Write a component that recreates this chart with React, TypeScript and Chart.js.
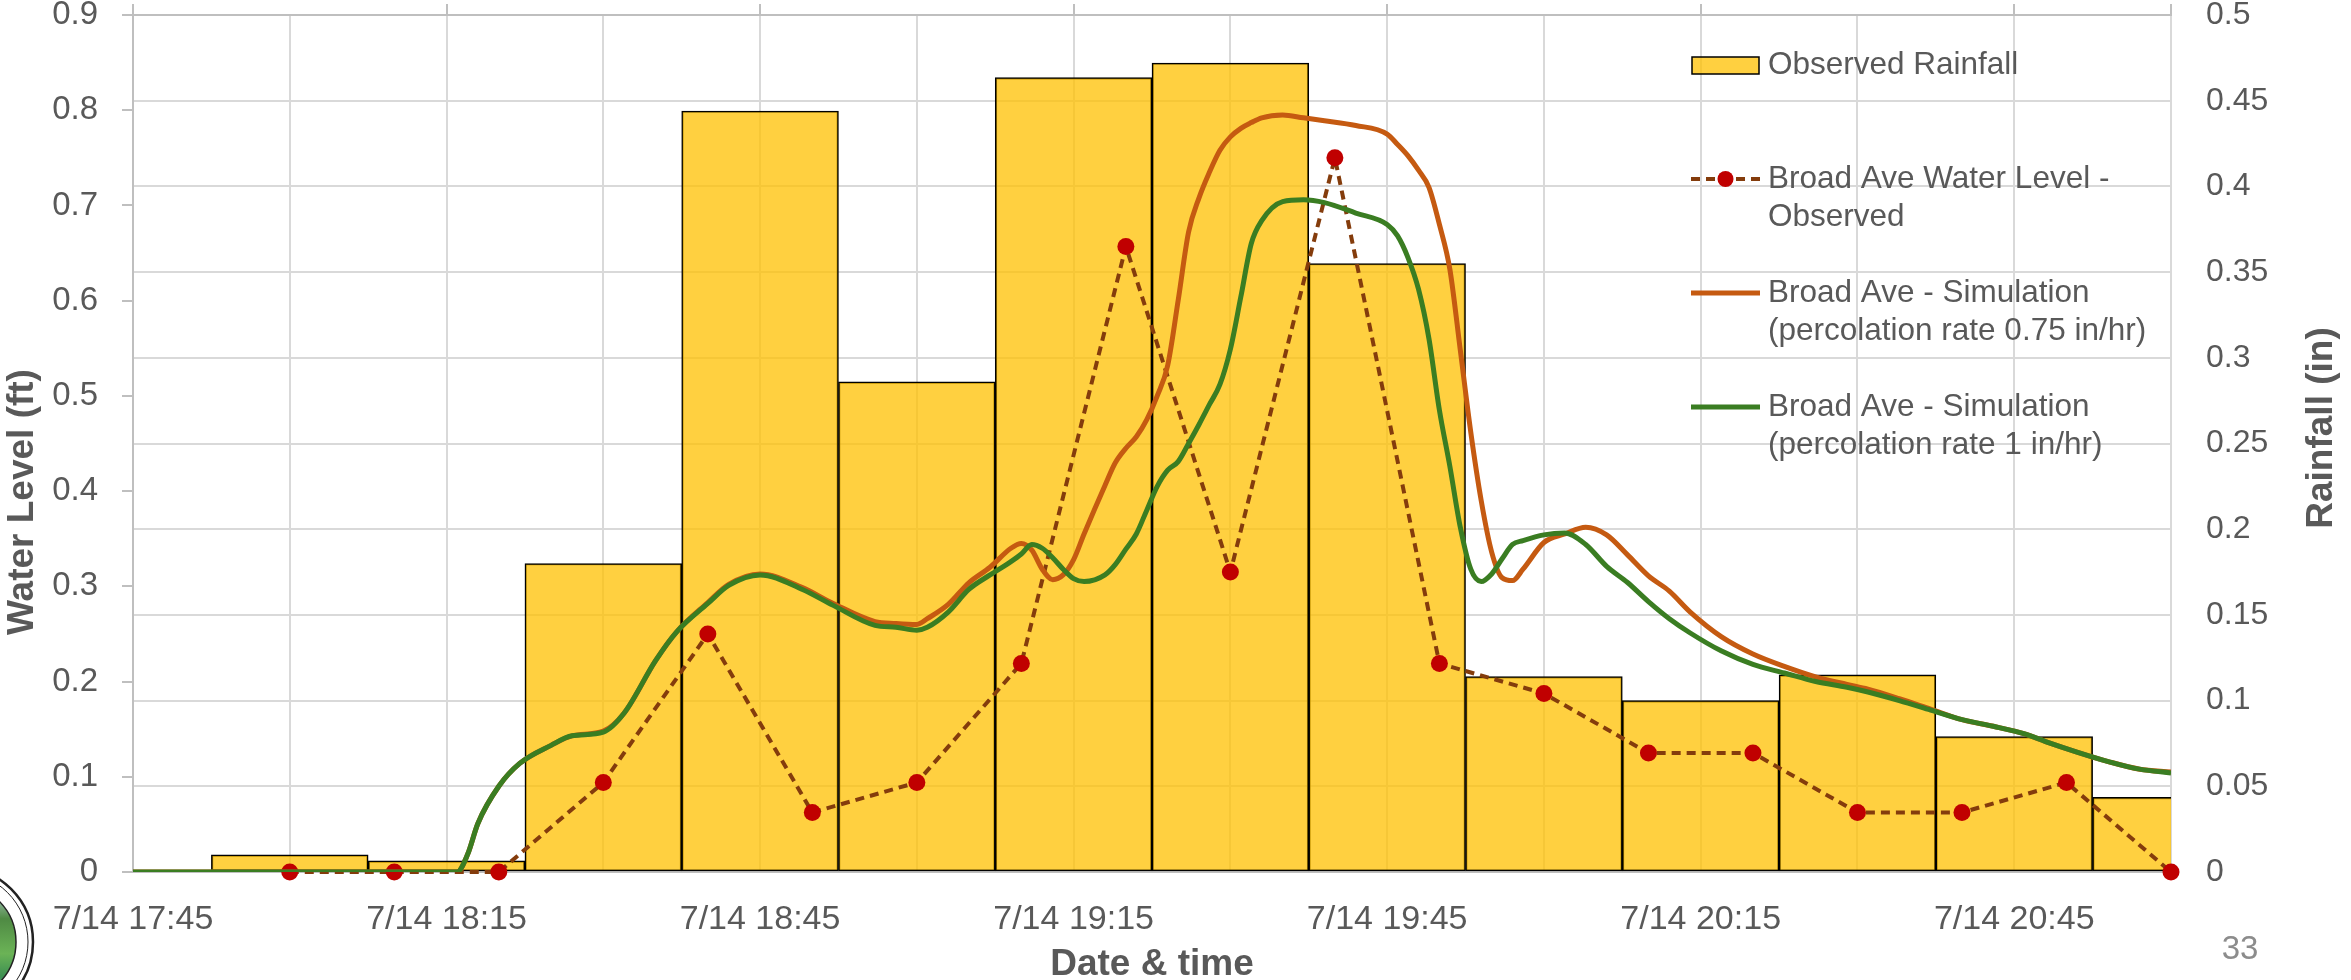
import React, { useEffect, useRef } from 'react';
import { Chart, registerables } from 'chart.js';

Chart.register(...registerables);

const W = 2351;
const H = 980;
const FONT = '"Liberation Sans", Arial, sans-serif';
const TEXT = '#595959';

// ---- Data ----
const rainTimes = ['18:00', '18:15', '18:30', '18:45', '19:00', '19:15', '19:30', '19:45', '20:00', '20:15', '20:30', '20:45', '21:00'];
const rainfall = [0.01, 0.0065, 0.18, 0.444, 0.286, 0.4635, 0.472, 0.355, 0.114, 0.1, 0.115, 0.079, 0.0435];

const obsTimes = ['18:00', '18:10', '18:20', '18:30', '18:40', '18:50', '19:00', '19:10', '19:20', '19:30', '19:40', '19:50', '20:00', '20:10', '20:20', '20:30', '20:40', '20:50', '21:00'];
const obsLevel = [0, 0, 0, 0.094, 0.25, 0.0625, 0.094, 0.219, 0.657, 0.315, 0.75, 0.219, 0.1875, 0.125, 0.125, 0.0625, 0.0625, 0.094, 0];

const simTimes = ['17:45', '18:16', '18:17', '18:18', '18:20', '18:22', '18:25', '18:27', '18:30', '18:32', '18:35', '18:37', '18:40', '18:42', '18:45', '18:49', '18:52', '18:56', '18:58', '19:00', '19:01', '19:03', '19:05', '19:07', '19:09', '19:10', '19:11', '19:12', '19:13', '19:14', '19:15', '19:16', '19:18', '19:19', '19:20', '19:21', '19:22', '19:23', '19:24', '19:25', '19:26', '19:27', '19:28', '19:29', '19:30', '19:31', '19:32', '19:33', '19:35', '19:37', '19:39', '19:42', '19:45', '19:46', '19:47', '19:48', '19:49', '19:50', '19:51', '19:52', '19:53', '19:54', '19:55', '19:56', '19:57', '19:58', '20:00', '20:02', '20:04', '20:06', '20:08', '20:10', '20:12', '20:14', '20:17', '20:20', '20:23', '20:26', '20:29', '20:31', '20:34', '20:37', '20:40', '20:43', '20:46', '20:48', '20:51', '20:54', '20:57', '21:00'];
const sim075 = [0, 0, 0.018, 0.051, 0.09, 0.114, 0.133, 0.143, 0.148, 0.167, 0.222, 0.252, 0.283, 0.302, 0.313, 0.299, 0.282, 0.263, 0.261, 0.26, 0.266, 0.281, 0.304, 0.32, 0.34, 0.345, 0.338, 0.318, 0.307, 0.312, 0.328, 0.355, 0.406, 0.43, 0.445, 0.457, 0.475, 0.5, 0.532, 0.6, 0.672, 0.708, 0.735, 0.758, 0.772, 0.781, 0.787, 0.792, 0.795, 0.792, 0.789, 0.784, 0.775, 0.764, 0.752, 0.737, 0.719, 0.68, 0.633, 0.548, 0.462, 0.39, 0.336, 0.309, 0.306, 0.318, 0.346, 0.355, 0.362, 0.354, 0.333, 0.311, 0.295, 0.273, 0.247, 0.229, 0.216, 0.205, 0.197, 0.192, 0.182, 0.171, 0.16, 0.153, 0.145, 0.137, 0.126, 0.116, 0.108, 0.105];
const sim100 = [0, 0, 0.018, 0.051, 0.09, 0.114, 0.133, 0.143, 0.147, 0.167, 0.222, 0.252, 0.282, 0.301, 0.312, 0.297, 0.28, 0.259, 0.257, 0.254, 0.257, 0.273, 0.297, 0.312, 0.326, 0.334, 0.344, 0.34, 0.33, 0.318, 0.308, 0.305, 0.312, 0.323, 0.339, 0.355, 0.38, 0.405, 0.422, 0.431, 0.45, 0.47, 0.491, 0.512, 0.549, 0.604, 0.66, 0.684, 0.704, 0.706, 0.703, 0.692, 0.68, 0.668, 0.645, 0.612, 0.56, 0.485, 0.426, 0.362, 0.318, 0.305, 0.313, 0.329, 0.344, 0.348, 0.354, 0.356, 0.344, 0.321, 0.304, 0.284, 0.266, 0.251, 0.232, 0.218, 0.209, 0.2, 0.194, 0.189, 0.18, 0.17, 0.16, 0.153, 0.145, 0.137, 0.126, 0.116, 0.108, 0.104];

const xTickLabels = ['7/14 17:45', '7/14 18:15', '7/14 18:45', '7/14 19:15', '7/14 19:45', '7/14 20:15', '7/14 20:45'];
const leftTickLabels = ['0', '0.1', '0.2', '0.3', '0.4', '0.5', '0.6', '0.7', '0.8', '0.9'];
const rightTickLabels = ['0', '0.05', '0.1', '0.15', '0.2', '0.25', '0.3', '0.35', '0.4', '0.45', '0.5'];

const legendLabels = [
  ['Observed Rainfall'],
  ['Broad Ave Water Level -', 'Observed'],
  ['Broad Ave - Simulation', '(percolation rate 0.75 in/hr)'],
  ['Broad Ave - Simulation', '(percolation rate 1 in/hr)'],
];

const BAR_FILL = 'rgba(255,192,0,0.75)';
const OBS_LINE = '#843C0C';
const OBS_DOT = '#C00000';
const ORANGE = '#C55A11';
const GREEN = '#3A7D22';

const toMin = (hhmm: string) => {
  const [h, m] = hhmm.split(':').map(Number);
  return h * 60 + m - (17 * 60 + 45);
};
const pts = (times: string[], vals: number[]) => times.map((t, i) => ({ x: toMin(t), y: vals[i] }));

const overlayPlugin = {
  id: 'overlay',
  afterDraw(chart: any) {
    const ctx = chart.ctx as CanvasRenderingContext2D;
    ctx.save();
    // axis titles
    ctx.fillStyle = TEXT;
    ctx.font = `bold 37px ${FONT}`;
    ctx.textAlign = 'center';
    ctx.textBaseline = 'middle';
    ctx.save();
    ctx.translate(23, 502);
    ctx.rotate(-Math.PI / 2);
    ctx.fillText('Water Level (ft)', 0, 0);
    ctx.restore();
    ctx.save();
    ctx.translate(2322, 428);
    ctx.rotate(-Math.PI / 2);
    ctx.fillText('Rainfall (in)', 0, 0);
    ctx.restore();
    ctx.fillText('Date & time', 1152, 965);

    // legend
    const sx0 = 1691;
    const sx1 = 1760;
    const tx = 1768;
    const ys = [65, 179, 293, 407];
    const lh = 38.5;
    ctx.fillStyle = BAR_FILL;
    ctx.fillRect(1692, 57, 67, 17);
    ctx.strokeStyle = '#000';
    ctx.lineWidth = 1.5;
    ctx.strokeRect(1692, 57, 67, 17);
    ctx.save();
    ctx.strokeStyle = OBS_LINE;
    ctx.lineWidth = 4;
    ctx.setLineDash([9, 6]);
    ctx.beginPath();
    ctx.moveTo(sx0, ys[1]);
    ctx.lineTo(sx1, ys[1]);
    ctx.stroke();
    ctx.restore();
    ctx.fillStyle = OBS_DOT;
    ctx.beginPath();
    ctx.arc((sx0 + sx1) / 2, ys[1], 8, 0, Math.PI * 2);
    ctx.fill();
    ctx.lineWidth = 5;
    ctx.strokeStyle = ORANGE;
    ctx.beginPath();
    ctx.moveTo(sx0, ys[2]);
    ctx.lineTo(sx1, ys[2]);
    ctx.stroke();
    ctx.strokeStyle = GREEN;
    ctx.beginPath();
    ctx.moveTo(sx0, ys[3]);
    ctx.lineTo(sx1, ys[3]);
    ctx.stroke();
    ctx.fillStyle = TEXT;
    ctx.font = `31.5px ${FONT}`;
    ctx.textAlign = 'left';
    legendLabels.forEach((lines, i) => {
      lines.forEach((ln, j) => ctx.fillText(ln, tx, ys[i] + j * lh));
    });

    // page number
    ctx.fillStyle = '#8C8C8C';
    ctx.font = `33px ${FONT}`;
    ctx.textAlign = 'center';
    ctx.fillText('33', 2240, 950);

    // seal (corner logo)
    const cx = -42;
    const cy = 942;
    ctx.beginPath();
    ctx.arc(cx, cy, 75, 0, Math.PI * 2);
    ctx.fillStyle = '#fff';
    ctx.fill();
    ctx.lineWidth = 2.5;
    ctx.strokeStyle = '#222';
    ctx.stroke();
    ctx.beginPath();
    ctx.arc(cx, cy, 70, 0, Math.PI * 2);
    ctx.lineWidth = 1;
    ctx.stroke();
    ctx.save();
    ctx.beginPath();
    ctx.arc(cx, cy, 58, 0, Math.PI * 2);
    ctx.clip();
    const g = ctx.createLinearGradient(0, cy - 58, 0, cy + 58);
    g.addColorStop(0, '#c9dde9');
    g.addColorStop(0.3, '#4f8a44');
    g.addColorStop(0.6, '#6bb356');
    g.addColorStop(0.8, '#3c8f52');
    g.addColorStop(1, '#7fb3d1');
    ctx.fillStyle = g;
    ctx.fillRect(cx - 60, cy - 60, 120, 120);
    ctx.restore();
    ctx.beginPath();
    ctx.arc(cx, cy, 58, 0, Math.PI * 2);
    ctx.lineWidth = 1.5;
    ctx.strokeStyle = '#222';
    ctx.stroke();
    ctx.restore();
  },
};

export default function App() {
  const ref = useRef<HTMLCanvasElement | null>(null);

  useEffect(() => {
    if (!ref.current) return;
    const chart = new Chart(ref.current, {
      type: 'line',
      data: {
        datasets: [
          {
            type: 'bar',
            label: 'Observed Rainfall',
            data: pts(rainTimes, rainfall),
            xAxisID: 'x',
            yAxisID: 'y1',
            backgroundColor: BAR_FILL,
            borderColor: '#000',
            borderWidth: 1.5,
            borderSkipped: false,
            barPercentage: 1,
            categoryPercentage: 1,
            order: 4,
          } as any,
          {
            type: 'line',
            label: 'Broad Ave Water Level - Observed',
            data: pts(obsTimes, obsLevel),
            xAxisID: 'x',
            yAxisID: 'y',
            borderColor: OBS_LINE,
            borderWidth: 4,
            borderDash: [9, 6],
            pointRadius: 8.5,
            pointBackgroundColor: OBS_DOT,
            pointBorderColor: OBS_DOT,
            pointBorderWidth: 0,
            tension: 0,
            clip: false,
            order: 3,
          } as any,
          {
            type: 'line',
            label: 'Broad Ave - Simulation (percolation rate 0.75 in/hr)',
            data: pts(simTimes, sim075),
            xAxisID: 'x',
            yAxisID: 'y',
            borderColor: ORANGE,
            borderWidth: 5,
            pointRadius: 0,
            cubicInterpolationMode: 'monotone',
            order: 2,
          } as any,
          {
            type: 'line',
            label: 'Broad Ave - Simulation (percolation rate 1 in/hr)',
            data: pts(simTimes, sim100),
            xAxisID: 'x',
            yAxisID: 'y',
            borderColor: GREEN,
            borderWidth: 5,
            pointRadius: 0,
            cubicInterpolationMode: 'monotone',
            order: 1,
          } as any,
        ],
      },
      options: {
        responsive: false,
        animation: false,
        devicePixelRatio: 1,
        events: [],
        layout: { padding: 0, autoPadding: false } as any,
        plugins: {
          legend: { display: false },
          tooltip: { enabled: false },
          title: { display: false },
        },
        scales: {
          x: {
            type: 'linear',
            position: 'bottom',
            min: 0,
            max: 195,
            offset: false,
            grid: {
              offset: false,
              color: '#D9D9D9',
              lineWidth: 2,
              drawTicks: false,
              drawOnChartArea: true,
            },
            border: { display: true, color: '#BFBFBF', width: 2 },
            ticks: {
              stepSize: 15,
              autoSkip: false,
              maxRotation: 0,
              minRotation: 0,
              padding: 27,
              color: TEXT,
              font: { family: FONT, size: 34 },
              callback: (v: any) => {
                const n = Number(v);
                return n % 30 === 0 ? xTickLabels[n / 30] ?? '' : '';
              },
            },
            afterFit: (s: any) => {
              s.height = 108;
              s.paddingLeft = 0;
              s.paddingRight = 0;
            },
          },
          xTop: {
            type: 'linear',
            axis: 'x',
            position: 'top',
            min: 0,
            max: 195,
            offset: false,
            grid: {
              offset: false,
              drawOnChartArea: false,
              drawTicks: true,
              tickLength: 11,
              tickColor: '#BFBFBF',
              tickWidth: 2,
              color: '#BFBFBF',
              lineWidth: 2,
            },
            border: { display: true, color: '#BFBFBF', width: 2 },
            ticks: { stepSize: 30, display: false, autoSkip: false },
            afterFit: (s: any) => {
              s.height = 15;
              s.paddingLeft = 0;
              s.paddingRight = 0;
            },
          } as any,
          y: {
            type: 'linear',
            position: 'left',
            min: 0,
            max: 0.9,
            grid: {
              drawOnChartArea: false,
              drawTicks: true,
              tickLength: 11,
              tickColor: '#BFBFBF',
              tickWidth: 2,
              color: '#BFBFBF',
              lineWidth: 2,
            },
            border: { display: true, color: '#BFBFBF', width: 2 },
            ticks: {
              stepSize: 0.1,
              padding: 24,
              color: TEXT,
              font: { family: FONT, size: 33 },
              callback: (v: any) => leftTickLabels[Math.round(Number(v) * 10)] ?? '',
            },
            afterFit: (s: any) => {
              s.width = 133;
              s.paddingTop = 0;
              s.paddingBottom = 0;
            },
          },
          y1: {
            type: 'linear',
            position: 'right',
            min: 0,
            max: 0.5,
            grid: {
              drawOnChartArea: true,
              drawTicks: false,
              color: '#D9D9D9',
              lineWidth: 2,
            },
            border: { display: false },
            ticks: {
              stepSize: 0.05,
              padding: 35,
              color: TEXT,
              font: { family: FONT, size: 32 },
              callback: (v: any) => rightTickLabels[Math.round(Number(v) * 20)] ?? '',
            },
            afterFit: (s: any) => {
              s.width = 180;
              s.paddingTop = 0;
              s.paddingBottom = 0;
            },
          },
        },
      } as any,
      plugins: [overlayPlugin],
    });
    return () => chart.destroy();
  }, []);

  return (
    <div style={{ position: 'absolute', left: 0, top: 0, width: W, height: H, background: '#fff' }}>
      <canvas ref={ref} width={W} height={H} style={{ display: 'block', width: W, height: H }} />
    </div>
  );
}
